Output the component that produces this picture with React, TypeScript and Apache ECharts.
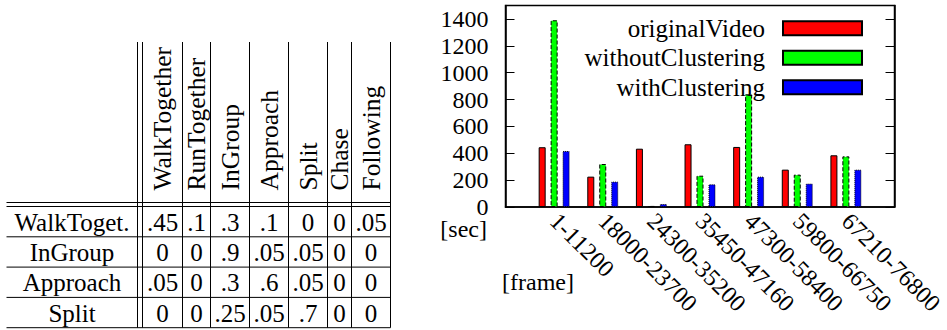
import React, { useEffect, useRef, useState } from "react";
import * as echarts from "echarts";

// ---- Table data ----
const tableColLabels = ["WalkTogether", "RunTogether", "InGroup", "Approach", "Split", "Chase", "Following"];
const tableRowLabels = ["WalkToget.", "InGroup", "Approach", "Split"];
const rowWalk = [0.45, 0.1, 0.3, 0.1, 0, 0, 0.05];
const rowInGroup = [0, 0, 0.9, 0.05, 0.05, 0, 0];
const rowApproach = [0.05, 0, 0.3, 0.6, 0.05, 0, 0];
const rowSplit = [0, 0, 0.25, 0.05, 0.7, 0, 0];
const tableValues = [rowWalk, rowInGroup, rowApproach, rowSplit];

// ---- Bar chart data ----
const frameRanges = ["1-11200", "18000-23700", "24300-35200", "35450-47160", "47300-58400", "59800-66750", "67210-76800"];
const seriesNames = ["originalVideo", "withoutClustering", "withClustering"];
const originalVideo = [445, 226, 434, 467, 447, 278, 385];
const withoutClustering = [1390, 320, 8, 233, 839, 241, 377];
const withClustering = [417, 189, 22, 169, 226, 174, 278];
const yMax = 1500;
const yInterval = 200;

const FONT = "Liberation Serif";

function fmt(v: number): string {
  if (v === 0) return "0";
  return String(v).replace(/^0/, "");
}

function txt(text: string, x: number, y: number, size: number, align: string, extra: any = {}) {
  return {
    type: "text",
    x,
    y,
    ...extra,
    style: { text, fontSize: size, fontFamily: FONT, fill: "#000", align, verticalAlign: "middle" },
  };
}

function buildTableGraphics() {
  const els: any[] = [];
  const left = 6.5;
  const right = 390.5;
  const headTop = 42;
  const dbl1 = 202.5;
  const dbl2 = 206.5;
  const rowH = 30.3;
  const bottom = dbl2 + rowH * tableRowLabels.length;
  const vDbl1 = 137.5;
  const colEdges = [142.5, 182.5, 210.5, 249.5, 288.5, 327.5, 351.5, 390.5];
  const line = (x1: number, y1: number, x2: number, y2: number) => ({
    type: "line",
    shape: { x1, y1, x2, y2 },
    style: { stroke: "#000", lineWidth: 1 },
  });
  els.push(line(left, dbl1, right, dbl1));
  els.push(line(left, dbl2, right, dbl2));
  for (let r = 1; r <= tableRowLabels.length; r++) {
    const y = dbl2 + rowH * r;
    els.push(line(left, y, right, y));
  }
  els.push(line(vDbl1, headTop, vDbl1, bottom));
  for (const x of colEdges) els.push(line(x, headTop, x, bottom));
  tableColLabels.forEach((lab, i) => {
    const cx = (colEdges[i] + colEdges[i + 1]) / 2;
    els.push(txt(lab, cx, 190.5, 25.5, "left", { rotation: Math.PI / 2 }));
  });
  tableRowLabels.forEach((lab, r) => {
    const cy = dbl2 + rowH * r + rowH / 2 + 0.5;
    els.push(txt(lab, 72, cy, 25, "center"));
    tableValues[r].forEach((v, c) => {
      const cx = (colEdges[c] + colEdges[c + 1]) / 2;
      els.push(txt(fmt(v), cx, cy, 25, "center"));
    });
  });
  return els;
}

function buildOption() {
  const cats = ["", ...frameRanges, ""];
  const pad = (arr: number[]) => [null, ...arr, null];
  const colors = ["#ff0000", "#00ff00", "#0000ff"];
  const borderTypes = ["solid", "dashed", "dotted"];
  const seriesData = [originalVideo, withoutClustering, withClustering];
  const graphics = buildTableGraphics();
  graphics.push(txt("[sec]", 487, 229, 24, "right"));
  graphics.push(txt("[frame]", 502, 282, 24, "left"));
  return {
    animation: false,
    grid: { left: 505.5, right: 49.5, top: 5.5, bottom: 123, show: true, borderColor: "#000", borderWidth: 1.5 },
    legend: {
      orient: "vertical", right: 79, top: 8.5, align: "right", itemWidth: 79, itemHeight: 14, itemGap: 0, icon: "rect", selectedMode: false,
      textStyle: { fontSize: 25, fontFamily: FONT, color: "#000", lineHeight: 29.5, padding: [0, 13, 0, 0] },
      data: seriesNames,
    },
    xAxis: {
      type: "category", data: cats, boundaryGap: false,
      axisLine: { show: true, lineStyle: { color: "#000", width: 1.5 } },
      axisTick: { show: false },
      axisLabel: { interval: 0, rotate: -45, margin: 10, fontSize: 24, fontFamily: FONT, color: "#000" },
    },
    yAxis: [
      {
        type: "value", min: 0, max: yMax, interval: yInterval,
        axisLine: { show: true, lineStyle: { color: "#000", width: 1.5 } },
        axisTick: { show: true, inside: true, length: 9, lineStyle: { color: "#000", width: 1 } },
        splitLine: { show: false },
        axisLabel: { showMaxLabel: false, margin: 17, fontSize: 24, fontFamily: FONT, color: "#000", formatter: (v: number) => (v > 1400 ? "" : String(v)) },
      },
      {
        type: "value", position: "right", min: 0, max: yMax, interval: yInterval,
        axisLine: { show: true, lineStyle: { color: "#000", width: 1.5 } },
        axisTick: { show: true, inside: true, length: 9, lineStyle: { color: "#000", width: 1 } },
        splitLine: { show: false }, axisLabel: { show: false },
      },
    ],
    series: seriesData.map((d, i) => ({
      name: seriesNames[i], type: "bar", data: pad(d), barWidth: 7, barGap: "71%",
      itemStyle: { color: colors[i], borderColor: "#000", borderWidth: 1, borderType: borderTypes[i] },
    })),
    graphic: graphics,
  };
}

export default function App() {
  const ref = useRef<HTMLDivElement>(null);
  const [tick, setTick] = useState(0);
  useEffect(() => {
    if (!ref.current) return;
    const chart = echarts.init(ref.current, null, { renderer: "svg" });
    chart.setOption(buildOption() as any);
    setTick(1);
    let alive = true;
    const redraw = () => {
      if (!alive) return;
      chart.clear();
      chart.setOption(buildOption() as any, true);
      setTick((t) => t + 1);
    };
    try {
      const fonts: any = (document as any).fonts;
      if (fonts && fonts.load) {
        Promise.all([fonts.load("25px 'Liberation Serif'"), fonts.ready]).then(redraw, redraw);
      }
    } catch (e) {
      /* ignore */
    }
    return () => {
      alive = false;
      chart.dispose();
    };
  }, []);
  return (
    <div>
      <span
        aria-hidden="true"
        style={{ position: "absolute", left: 0, top: 0, fontFamily: "'Liberation Serif'", fontSize: 1, color: "#fff", opacity: 0.01 }}
        data-t={tick}
      >
        .
      </span>
      <div ref={ref} style={{ width: 947, height: 330, position: "absolute", left: 0, top: 0 }} />
    </div>
  );
}
